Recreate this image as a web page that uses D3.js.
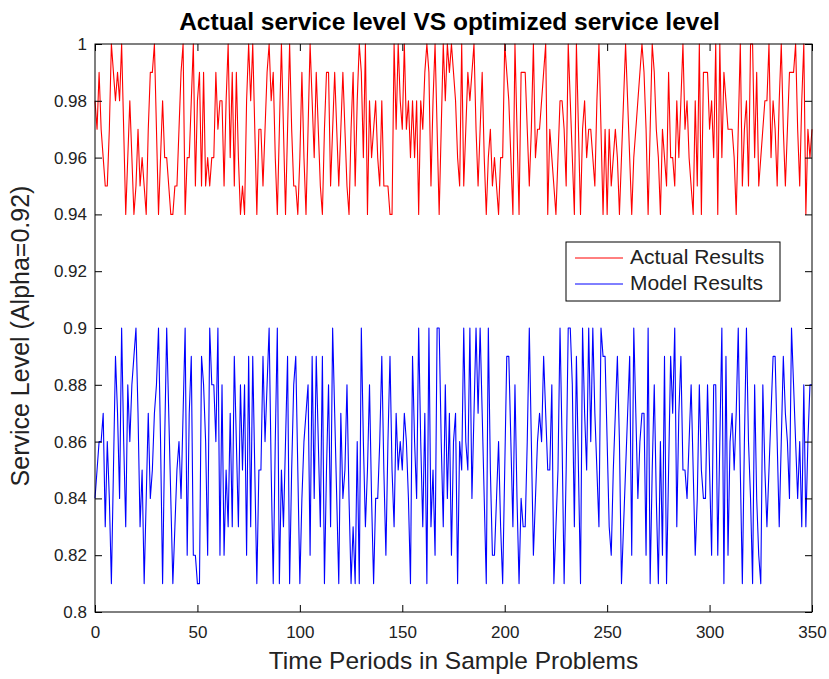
<!DOCTYPE html>
<html>
<head>
<meta charset="utf-8">
<script src="https://cdn.jsdelivr.net/npm/d3@7"></script>
<style>
  body { margin: 0; background: #fff; }
  text { font-family: "Liberation Sans", Arial, sans-serif; }
</style>
</head>
<body>
<svg id="chart"></svg>
<script>
// service levels, one value per time period (0..350)
const actualResults = [
  0.98,0.97,0.99,0.97,0.96,0.95,0.95,0.97,1.00,0.99,0.98,0.99,0.98,1.00,0.97,0.94,0.96,0.98,0.96,0.94,
  0.95,0.97,0.95,0.96,0.95,0.94,0.97,0.99,0.99,1.00,0.97,0.94,0.96,0.98,0.96,0.96,0.95,0.94,0.94,0.95,
  0.95,0.97,0.99,1.00,0.94,0.96,0.96,0.98,1.00,0.95,0.98,0.99,0.95,0.99,0.95,0.96,0.95,0.96,0.96,0.99,
  0.97,0.98,0.98,0.95,0.98,1.00,0.96,0.99,0.95,0.99,0.96,0.94,0.95,0.94,0.98,1.00,0.98,1.00,0.97,0.94,
  0.97,0.97,0.95,0.97,0.99,1.00,0.98,0.99,0.96,0.94,0.97,1.00,0.97,0.94,0.97,1.00,0.97,0.95,0.95,0.94,
  0.96,0.99,0.96,0.94,0.97,1.00,0.98,0.96,0.99,0.97,0.95,0.94,0.97,0.99,0.99,0.95,0.97,0.99,0.97,0.95,
  0.97,0.99,0.97,0.95,0.94,0.97,0.99,0.95,0.98,1.00,0.99,0.96,1.00,0.94,0.98,0.96,0.97,0.98,0.96,0.95,
  0.98,0.95,0.95,0.95,0.94,0.94,1.00,0.97,1.00,0.98,0.97,1.00,0.97,0.98,0.96,0.98,0.96,0.98,0.94,0.98,
  0.97,0.99,1.00,0.99,0.95,0.98,1.00,0.97,0.94,0.97,1.00,0.98,1.00,0.99,1.00,0.99,0.98,0.96,0.95,1.00,
  0.95,0.97,0.99,0.98,0.99,1.00,0.97,0.95,0.97,0.99,0.96,0.94,0.96,0.97,0.95,0.96,0.95,0.94,0.96,0.96,
  1.00,0.99,0.98,0.96,0.94,1.00,0.97,0.94,0.99,0.99,0.99,0.97,0.95,0.97,1.00,0.96,0.97,0.97,0.98,0.99,
  1.00,0.94,0.97,0.96,0.95,0.94,0.96,0.98,0.98,0.97,0.95,1.00,0.98,0.96,0.94,1.00,0.97,0.94,0.97,0.98,
  0.96,0.97,0.97,0.96,0.95,0.98,1.00,0.97,0.94,0.97,0.94,0.97,0.95,0.96,0.97,0.96,0.94,0.96,0.98,1.00,
  0.98,0.96,0.94,0.96,0.97,0.98,0.99,1.00,0.99,0.97,0.94,0.97,1.00,0.99,0.97,0.96,0.94,0.97,0.96,0.95,
  0.99,0.96,0.96,0.95,0.98,0.96,0.98,1.00,0.97,0.98,0.96,0.95,0.94,0.98,0.95,1.00,0.94,0.99,0.99,0.99,
  0.97,0.98,0.96,1.00,0.94,1.00,0.96,0.99,0.98,0.97,0.97,0.97,0.96,0.94,0.97,1.00,0.95,0.97,0.98,0.95,
  1.00,1.00,0.96,0.99,0.95,0.96,0.97,0.98,0.98,1.00,0.96,0.98,0.97,0.95,0.98,1.00,0.97,0.95,0.97,0.99,
  0.99,0.99,1.00,0.97,0.95,0.98,1.00,0.94,0.97,0.96,0.97
];
const modelResults = [
  0.84,0.85,0.86,0.86,0.87,0.83,0.86,0.84,0.81,0.85,0.89,0.87,0.84,0.90,0.86,0.83,0.88,0.86,0.88,0.89,
  0.90,0.87,0.83,0.85,0.81,0.84,0.87,0.84,0.85,0.87,0.88,0.90,0.86,0.81,0.86,0.90,0.87,0.84,0.81,0.83,
  0.85,0.86,0.84,0.87,0.90,0.82,0.87,0.89,0.82,0.82,0.81,0.81,0.89,0.88,0.86,0.82,0.90,0.88,0.88,0.86,
  0.90,0.82,0.88,0.82,0.85,0.83,0.87,0.83,0.89,0.86,0.83,0.88,0.85,0.88,0.82,0.89,0.83,0.89,0.85,0.81,
  0.85,0.85,0.89,0.86,0.88,0.90,0.85,0.81,0.86,0.90,0.81,0.85,0.83,0.86,0.89,0.81,0.85,0.88,0.89,0.85,
  0.81,0.84,0.86,0.87,0.88,0.82,0.89,0.84,0.89,0.86,0.83,0.89,0.81,0.85,0.88,0.83,0.90,0.87,0.84,0.81,
  0.87,0.84,0.85,0.88,0.84,0.81,0.83,0.81,0.86,0.81,0.90,0.86,0.83,0.85,0.88,0.84,0.81,0.84,0.84,0.86,
  0.89,0.85,0.82,0.86,0.89,0.85,0.83,0.87,0.85,0.86,0.85,0.87,0.86,0.84,0.81,0.89,0.86,0.84,0.90,0.86,
  0.83,0.87,0.81,0.90,0.83,0.85,0.82,0.90,0.90,0.86,0.83,0.88,0.84,0.87,0.82,0.86,0.87,0.81,0.86,0.85,
  0.90,0.86,0.85,0.90,0.84,0.87,0.90,0.87,0.90,0.87,0.84,0.81,0.90,0.85,0.82,0.82,0.84,0.86,0.83,0.81,
  0.85,0.89,0.89,0.86,0.83,0.88,0.84,0.81,0.84,0.83,0.83,0.86,0.90,0.86,0.82,0.84,0.86,0.87,0.86,0.89,
  0.87,0.85,0.85,0.88,0.81,0.83,0.85,0.90,0.86,0.81,0.85,0.90,0.90,0.88,0.83,0.89,0.85,0.81,0.90,0.87,
  0.85,0.90,0.86,0.90,0.87,0.85,0.83,0.90,0.89,0.89,0.86,0.83,0.82,0.85,0.87,0.89,0.86,0.81,0.83,0.85,
  0.87,0.89,0.82,0.90,0.87,0.84,0.86,0.87,0.87,0.82,0.90,0.81,0.85,0.88,0.84,0.81,0.86,0.82,0.89,0.81,
  0.85,0.89,0.87,0.90,0.83,0.87,0.89,0.85,0.85,0.84,0.86,0.88,0.85,0.82,0.84,0.88,0.85,0.84,0.84,0.88,
  0.85,0.82,0.88,0.88,0.82,0.86,0.90,0.81,0.89,0.82,0.86,0.87,0.85,0.87,0.90,0.85,0.81,0.86,0.90,0.86,
  0.84,0.81,0.88,0.84,0.82,0.81,0.88,0.85,0.83,0.85,0.87,0.89,0.89,0.86,0.83,0.86,0.89,0.87,0.86,0.84,
  0.90,0.88,0.86,0.84,0.86,0.83,0.88,0.83,0.86,0.88,0.88
];
const seriesNames = ["Actual Results", "Model Results"];
const seriesColors = ["#ff0000", "#0000ff"];
const xTicks = [0, 50, 100, 150, 200, 250, 300, 350];
const yTicks = [0.8, 0.82, 0.84, 0.86, 0.88, 0.9, 0.92, 0.94, 0.96, 0.98, 1];
const yTickLabels = ["0.8", "0.82", "0.84", "0.86", "0.88", "0.9", "0.92", "0.94", "0.96", "0.98", "1"];

const width = 829, height = 679;
const margin = {top: 44, right: 17, bottom: 67, left: 95};
const innerWidth = width - margin.left - margin.right;
const innerHeight = height - margin.top - margin.bottom;

const svg = d3.select("#chart").attr("width", width).attr("height", height)
  .style("display", "block");

const x = d3.scaleLinear().domain([0, 350]).range([0, innerWidth]);
const y = d3.scaleLinear().domain([0.8, 1]).range([innerHeight, 0]);

const g = svg.append("g").attr("transform", `translate(${margin.left},${margin.top})`);

const line = d3.line().x((d, i) => x(i)).y(d => y(d));
[actualResults, modelResults].forEach((vals, k) => {
  g.append("path")
    .datum(vals)
    .attr("fill", "none")
    .attr("stroke", seriesColors[k])
    .attr("stroke-width", 1.1)
    .attr("stroke-linejoin", "round")
    .attr("d", line);
});

// axes, ticks pointing inward like matlab
const tickLen = 7;
const styleAxis = sel => {
  sel.select(".domain").remove();
  sel.selectAll(".tick line").attr("stroke", "#000");
  sel.selectAll("text").attr("font-size", 17).attr("fill", "#222");
};
g.append("g").attr("transform", `translate(0,${innerHeight})`)
  .call(d3.axisBottom(x).tickValues(xTicks).tickSizeInner(-tickLen).tickPadding(14))
  .call(styleAxis);
g.append("g")
  .call(d3.axisTop(x).tickValues(xTicks).tickSizeInner(-tickLen))
  .call(styleAxis)
  .call(a => a.selectAll("text").remove());
g.append("g")
  .call(d3.axisLeft(y).tickValues(yTicks).tickSizeInner(-tickLen).tickPadding(8)
    .tickFormat((d, i) => yTickLabels[i]))
  .call(styleAxis);
g.append("g").attr("transform", `translate(${innerWidth},0)`)
  .call(d3.axisRight(y).tickValues(yTicks).tickSizeInner(-tickLen))
  .call(styleAxis)
  .call(a => a.selectAll("text").remove());

g.append("rect")
  .attr("width", innerWidth).attr("height", innerHeight)
  .attr("fill", "none").attr("stroke", "#000").attr("stroke-width", 1);

// title and labels
svg.append("text")
  .attr("x", margin.left + innerWidth / 2 - 4).attr("y", 30)
  .attr("text-anchor", "middle").attr("font-size", 24.5).attr("font-weight", "bold")
  .text("Actual service level VS optimized service level");
svg.append("text")
  .attr("x", margin.left + innerWidth / 2).attr("y", 669)
  .attr("text-anchor", "middle").attr("font-size", 24.5).attr("fill", "#222")
  .text("Time Periods in Sample Problems");
svg.append("text")
  .attr("transform", `translate(29,${margin.top + innerHeight / 2 + 8}) rotate(-90)`)
  .attr("text-anchor", "middle").attr("font-size", 25).attr("fill", "#222")
  .text("Service Level (Alpha=0.92)");

// legend
const legend = svg.append("g").attr("transform", "translate(566,242)");
legend.append("rect")
  .attr("width", 214).attr("height", 59)
  .attr("fill", "#fff").attr("stroke", "#000").attr("stroke-width", 1);
seriesNames.forEach((name, k) => {
  const ly = 16 + k * 26;
  legend.append("line")
    .attr("x1", 9).attr("x2", 57).attr("y1", ly).attr("y2", ly)
    .attr("stroke", seriesColors[k]).attr("stroke-width", 1);
  legend.append("text")
    .attr("x", 64).attr("y", ly + 6)
    .attr("font-size", 21).attr("fill", "#222")
    .text(name);
});
</script>
</body>
</html>
